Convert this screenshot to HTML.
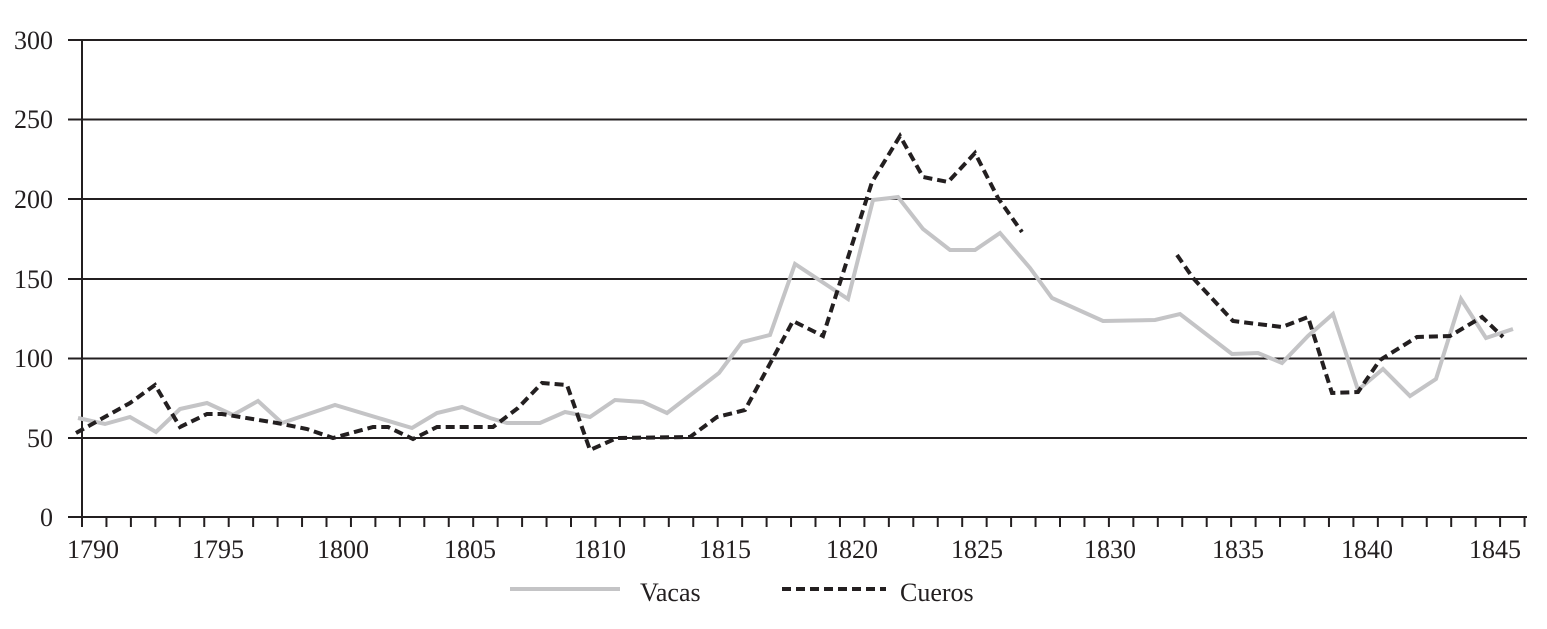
<!DOCTYPE html>
<html><head><meta charset="utf-8"><style>
html,body{margin:0;padding:0;background:#fff;}
svg{display:block;}
text{font-family:"Liberation Serif",serif;fill:#231f20;}
</style></head><body>
<svg width="1547" height="629" viewBox="0 0 1547 629" xmlns="http://www.w3.org/2000/svg">
<g stroke="#231f20" stroke-width="2">
<line x1="68" y1="40" x2="1527" y2="40"/>
<line x1="68" y1="119.5" x2="1527" y2="119.5"/>
<line x1="68" y1="199" x2="1527" y2="199"/>
<line x1="68" y1="279" x2="1527" y2="279"/>
<line x1="68" y1="358.5" x2="1527" y2="358.5"/>
<line x1="68" y1="438" x2="1527" y2="438"/>
<line x1="68" y1="517" x2="1527" y2="517"/>
<line x1="82" y1="40" x2="82" y2="527"/>
</g>
<g id="ticks" stroke="#231f20" stroke-width="2"></g>
<g font-size="26" text-anchor="end">
<text x="53" y="49">300</text><text x="53" y="128">250</text><text x="53" y="208">200</text>
<text x="53" y="288">150</text><text x="53" y="367">100</text><text x="53" y="447">50</text><text x="53" y="526">0</text>
</g>
<g font-size="26" text-anchor="middle">
<text x="93" y="558">1790</text><text x="218" y="558">1795</text><text x="343" y="558">1800</text>
<text x="470" y="558">1805</text><text x="600" y="558">1810</text><text x="725" y="558">1815</text>
<text x="852" y="558">1820</text><text x="977" y="558">1825</text><text x="1110" y="558">1830</text>
<text x="1238" y="558">1835</text><text x="1367" y="558">1840</text><text x="1495" y="558">1845</text>
</g>
<polyline fill="none" stroke="#c4c4c6" stroke-width="4" stroke-linejoin="miter" points="78,418 105,424 130,417 156,432 180,409 207,403 233,415 258,401 282,423 335,405 412,428 437,413 462,407 490,418 507,423 520,423 540,423 565,412 590,417 615,400 643,402 667,413 719,373 742,342 770,335 795,264 848,299 873,200 898,197 923,229 950,250 975,250 1000,233 1030,268 1052,298 1103,321 1155,320 1180,314 1232,354 1258,353 1282,363 1308,336 1333,314 1358,390 1383,369 1410,396 1436,379 1461,299 1486,338 1513,329"/>
<g fill="none" stroke="#231f20" stroke-width="4" stroke-dasharray="9,5">
<polyline points="76,433 130,403 155,385 180,427 207,414 222,414 277,423 307,429 333,438 373,427 388,427 413,439 437,427 493,427 518,408 542,383 567,385 590,450 617,438 690,437 717,417 745,410 793,321 823,336 872,182 900,136 923,177 948,182 975,153 998,198 1022,232"/>
<polyline points="1177,255 1193,278 1233,321 1282,327 1308,317 1332,393 1358,392 1380,360 1417,337 1450,336 1482,317 1503,337"/>
</g>
<line x1="510" y1="589" x2="620" y2="589" stroke="#c4c4c6" stroke-width="4"/>
<text x="640" y="601" font-size="26">Vacas</text>
<line x1="782" y1="589" x2="886" y2="589" stroke="#231f20" stroke-width="4" stroke-dasharray="9,5"/>
<text x="900" y="601" font-size="26">Cueros</text>
</svg>
<script>
var g=document.getElementById('ticks');
for(var i=0;i<=59;i++){var x=82+i*24.45;var l=document.createElementNS('http://www.w3.org/2000/svg','line');
l.setAttribute('x1',x);l.setAttribute('x2',x);l.setAttribute('y1',517);l.setAttribute('y2',527);g.appendChild(l);}
</script>
</body></html>
